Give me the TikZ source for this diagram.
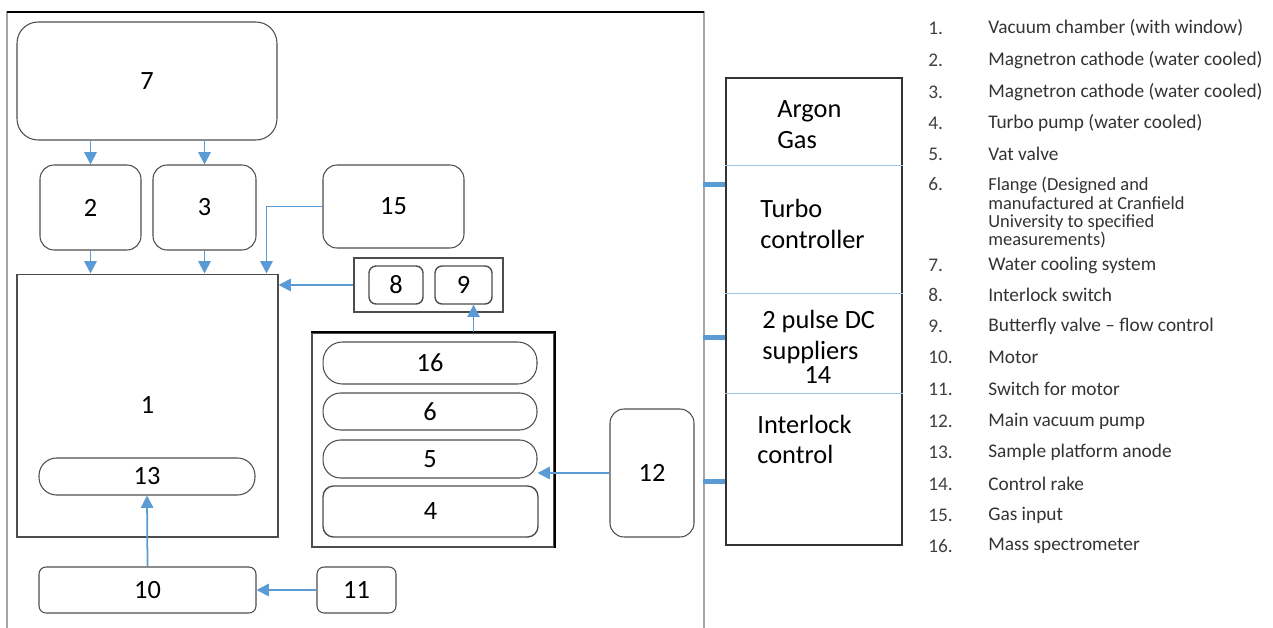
\documentclass[tikz,border=0pt]{standalone}
\usepackage{fontspec}
\setmainfont{Carlito}
\usepackage{xcolor}
\usetikzlibrary{positioning, arrows.meta}
\definecolor{flowblue}{HTML}{5B9BD5}
\definecolor{splitblue}{HTML}{9DC3E6}
\definecolor{edgegray}{HTML}{4D4D4D}
\definecolor{framegray}{HTML}{A6A6A6}

\tikzset{
  part/.style={draw=edgegray, line width=0.6pt, rounded corners=#1, inner sep=0pt,
               font=\fontsize{15}{18}\selectfont},
  part/.default=8pt,
  holder/.style={draw=edgegray, line width=0.8pt, inner sep=0pt},
  flow/.style={draw=flowblue, line width=1pt, -{Triangle[length=7pt,width=7pt]}},
  stub/.style={draw=flowblue, line width=3pt},
  split/.style={draw=splitblue, line width=0.6pt},
  paneltext/.style={anchor=west, align=left, inner sep=0pt, font=\fontsize{15}{17.5}\selectfont},
  keynum/.style={anchor=west, inner sep=0pt, text=black!75, font=\fontsize{11}{11}\selectfont},
  keytext/.style={anchor=west, align=left, inner sep=0pt, text=black!80, font=\fontsize{11}{9}\selectfont}
}

\begin{document}
\begin{tikzpicture}[x=0.02cm, y=-0.02cm]
  \useasboundingbox (0,0) rectangle (1273,628);

  % outer frame, open at the bottom
  \draw[framegray, line width=0.8pt] (7,628) -- (7,12) -- (704,12) -- (704,628);
  \draw[black, line width=1.2pt] (7,12) -- (704,12);

  % chamber side
  \node[part=12pt, minimum width=5.2cm, minimum height=2.36cm] (cooling) at (147,81) {7};
  \node[part, minimum width=2.02cm, minimum height=1.7cm] (cathodeA) at (90.5,207.5) {2};
  \node[part, minimum width=2.06cm, minimum height=1.7cm] (cathodeB) at (204.5,207.5) {3};
  \node[part, minimum width=2.82cm, minimum height=1.66cm] (gas) at (393.5,206.5) {15};
  \node[part=0pt, draw=black!70, minimum width=5.22cm, minimum height=5.26cm] (chamber) at (147.5,405.5) {1};
  \node[part=10pt, minimum width=4.32cm, minimum height=0.74cm] (platform) at (147,476.5) {13};
  \node[part=4pt, minimum width=4.34cm, minimum height=0.92cm] (motor) at (147.5,590) {10};
  \node[part=4pt, minimum width=1.58cm, minimum height=0.92cm] (switch) at (356.5,590) {11};

  % valves
  \node[holder, minimum width=2.98cm, minimum height=1.08cm] (valves) at (428.5,285) {};
  \node[part=4pt, line width=0.8pt, minimum width=1.08cm, minimum height=0.76cm] (interlock) at (396,285) {8};
  \node[part=4pt, line width=0.8pt, minimum width=1.14cm, minimum height=0.76cm] (butterfly) at (463.5,285) {9};

  % pump stack
  \node[holder, minimum width=4.84cm, minimum height=4.28cm] (stack) at (433,440) {};
  \draw[black, line width=1.1pt] (stack.north west) -- (stack.north east) -- (stack.south east);
  \node[part=11pt, minimum width=4.28cm, minimum height=0.84cm] (spectro) at (430,363) {16};
  \node[part=10pt, minimum width=4.28cm, minimum height=0.74cm] (flange) at (430,411.5) {6};
  \node[part=10pt, minimum width=4.28cm, minimum height=0.76cm] (vatvalve) at (430,459) {5};
  \node[part=6pt, line width=0.8pt, minimum width=4.3cm, minimum height=1.02cm] (turbo) at (430.5,511.5) {4};
  \node[part, minimum width=1.68cm, minimum height=2.56cm] (mainpump) at (652,473) {12};

  % connectors
  \draw[flow] (cooling.south -| cathodeA) -- (cathodeA.north);
  \draw[flow] (cooling.south -| cathodeB) -- (cathodeB.north);
  \draw[flow] (cathodeA.south) -- (cathodeA.south |- chamber.north);
  \draw[flow] (cathodeB.south) -- (cathodeB.south |- chamber.north);
  \draw[flow] (gas.west) -| ([xshift=-0.24cm]chamber.north east);
  \draw[flow] (valves.west) -- (valves.west -| chamber.east);
  \draw[flow] ([xshift=0.2cm]butterfly.south |- stack.north) -- ([xshift=0.2cm]butterfly.south);
  \draw[flow] (mainpump.west) -- (mainpump.west -| vatvalve.east);
  \draw[flow] (motor.north) -- (platform.south);
  \draw[flow] (switch.west) -- (motor.east);

  % control panel
  \node[draw=black!80, line width=0.8pt, minimum width=3.52cm, minimum height=9.34cm] (panel) at (814,311.5) {};
  \foreach \d in {1.76,4.32,6.32}
    \draw[split] ([yshift=-\d cm]panel.north west) -- ([yshift=-\d cm]panel.north east);
  \foreach \d in {2.14,5.2,8.08}
    \draw[stub] ([yshift=-\d cm]panel.north west) -- ++(-0.44cm,0);
  \node[paneltext] (argon) at (777,124.5) {Argon\\Gas};
  \node[paneltext] (turboctl) at (760,224) {Turbo\\controller};
  \node[paneltext] (supply) at (762,347) {2 pulse DC\\suppliers\\[-4pt]\hspace*{1.6em}14};
  \node[paneltext] (interlockctl) at (757,439.5) {Interlock\\control};

  % key
  \foreach \n/\y/\t in {1/28/Vacuum chamber (with window),
                        2/60/Magnetron cathode  (water cooled),
                        3/92/Magnetron cathode  (water cooled),
                        4/123/Turbo pump (water cooled),
                        5/154/Vat valve,
                        7/265/Water cooling system,
                        8/295/Interlock switch,
                        9/326/Butterfly valve -- flow control,
                        10/357/Motor,
                        11/389/Switch for motor,
                        12/421/Main vacuum pump,
                        13/452/Sample platform anode,
                        14/484/Control rake,
                        15/515/Gas input,
                        16/546/Mass spectrometer}{
    \node[keynum] (num\n) at (928,\y) {\n.};
    \node[keytext] (key\n) at (988,\y) {\t};
  }
  \node[keynum] (num6) at (928,184) {6.};
  \node[keytext, anchor=north west, font=\fontsize{10.5}{10.4}\selectfont] (key6) at (988,177)
    {Flange (Designed and\\manufactured at Cranfield\\University  to specified\\measurements)};
\end{tikzpicture}
\end{document}
